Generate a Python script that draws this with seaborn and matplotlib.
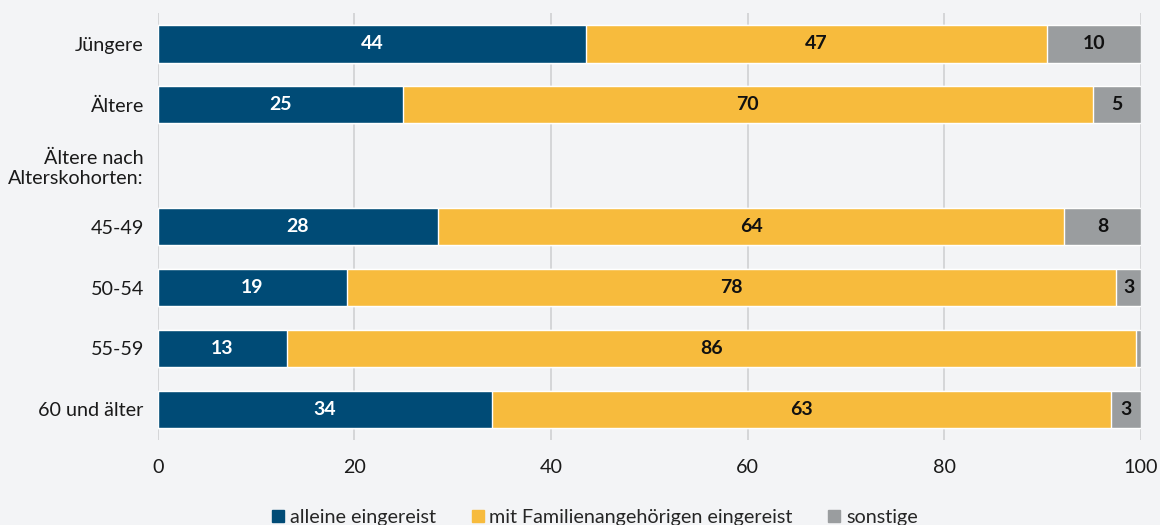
import numpy as np
import pandas as pd
import matplotlib
matplotlib.use("Agg")
import matplotlib.pyplot as plt
import seaborn as sns

categories = ["Jüngere", "Ältere", "Ältere nach\nAlterskohorten:", "45-49", "50-54", "55-59", "60 und älter"]
groups = ["Jüngere", "Ältere", "45-49", "50-54", "55-59", "60 und älter"]
alleine = [43.6, 24.9, 28.5, 19.2, 13.1, 34.0]
familie = [46.8, 70.2, 63.7, 78.3, 86.4, 63.0]
sonstige = [9.6, 4.9, 7.8, 2.5, 0.5, 3.0]
lab_alleine = ["44", "25", "28", "19", "13", "34"]
lab_familie = ["47", "70", "64", "78", "86", "63"]
lab_sonstige = ["10", "5", "8", "3", "", "3"]

series = ["alleine eingereist", "mit Familienangehörigen eingereist", "sonstige"]
colors = ["#004b76", "#f7bb3d", "#9a9d9f"]
bg = "#f3f4f6"

df = pd.DataFrame({"gruppe": groups, "a": alleine, "f": familie, "s": sonstige})
df["c1"] = df["a"]
df["c2"] = df["a"] + df["f"]
df["c3"] = df["c2"] + df["s"]

sns.set_theme(style="white")
plt.rcParams["font.family"] = ["Lato", "DejaVu Sans"]

fig = plt.figure(figsize=(11.6, 5.25), dpi=100, facecolor=bg)
ax = fig.add_axes([0.136, 0.162, 0.8476, 0.813])
ax.set_facecolor(bg)

# stacked by drawing cumulative totals, largest first
for col, color in zip(["c3", "c2", "c1"], colors[::-1]):
    sns.barplot(data=df, x=col, y="gruppe", order=categories, color=color,
                saturation=1, width=0.62, edgecolor="white", linewidth=1,
                ax=ax, legend=False, zorder=3)

for i, g in enumerate(groups):
    y = categories.index(g)
    a, f, s = alleine[i], familie[i], sonstige[i]
    kw = dict(ha="center", va="center", fontsize=14, fontweight="bold", zorder=5)
    ax.text(a / 2, y, lab_alleine[i], color="white", **kw)
    ax.text(a + f / 2, y, lab_familie[i], color="#111111", **kw)
    if lab_sonstige[i]:
        ax.text(a + f + s / 2, y, lab_sonstige[i], color="#111111", **kw)

ax.set_xlim(0, 100)
ax.set_ylim(6.5, -0.5)
ax.set_xticks([0, 20, 40, 60, 80, 100])
ax.xaxis.grid(True, color="#cfd0d2", linewidth=1.2, zorder=0)
ax.set_axisbelow(True)
ax.set_xlabel("")
ax.set_ylabel("")
for sp in ax.spines.values():
    sp.set_visible(False)
ax.tick_params(axis="both", length=0, labelsize=14.2, colors="#1a1a1a")
ax.tick_params(axis="x", pad=14)
ax.tick_params(axis="y", pad=10)
for t in ax.get_yticklabels():
    t.set_horizontalalignment("right")
    t.set_multialignment("right")

handles = [plt.Line2D([], [], marker="s", linestyle="", markersize=9, color=c) for c in colors]
fig.legend(handles, series, loc="lower center", bbox_to_anchor=(0.513, -0.035), ncol=3,
           frameon=False, fontsize=14.2, handlelength=0.6, handletextpad=0.3,
           columnspacing=1.8)

fig.savefig("out.png", dpi=100, facecolor=bg)
